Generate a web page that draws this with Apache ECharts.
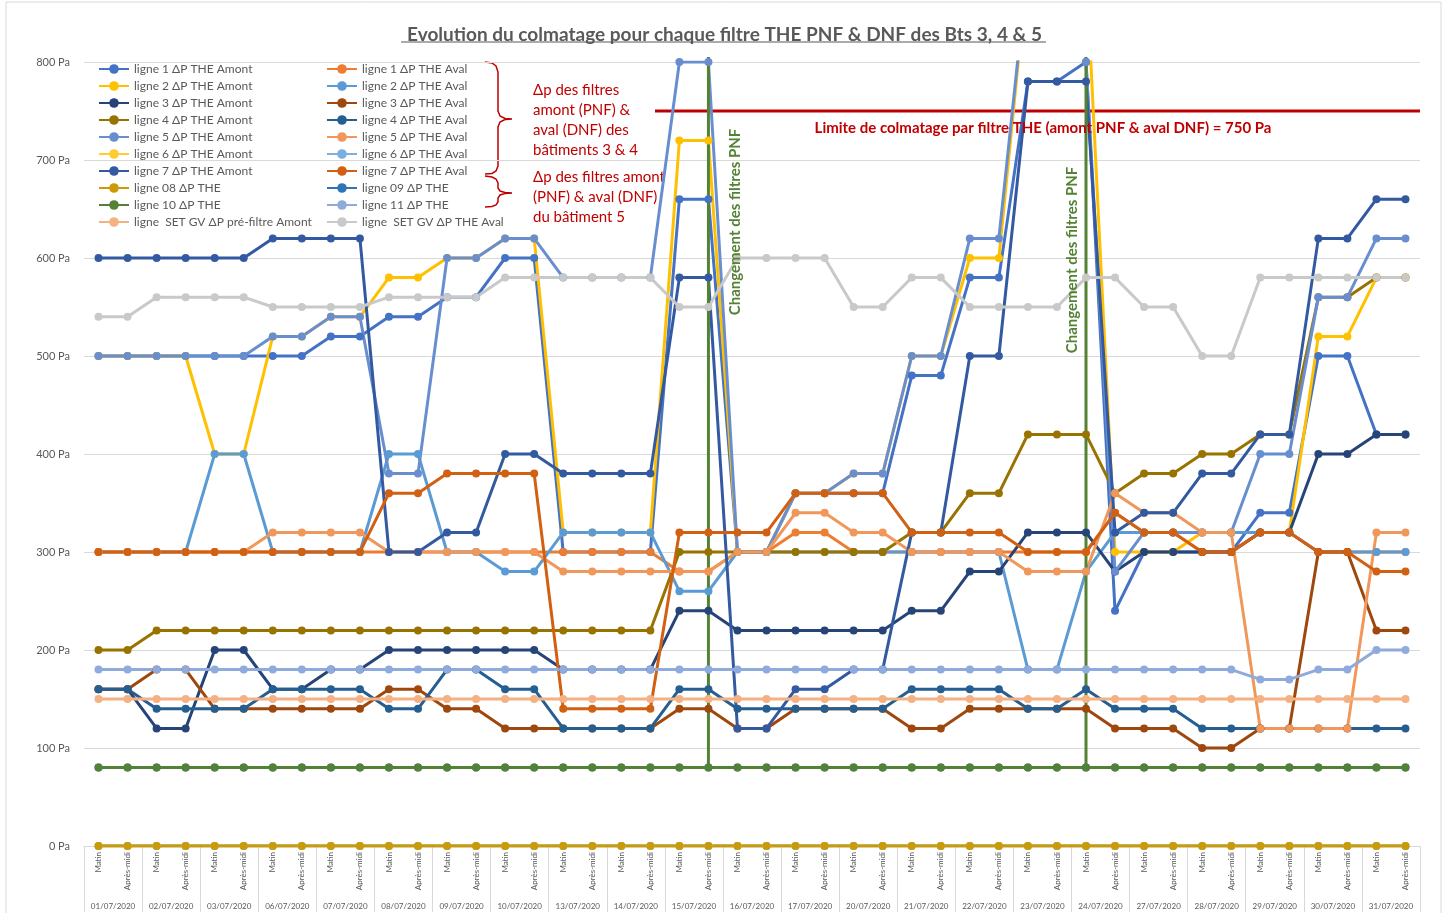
<!DOCTYPE html>
<html><head><meta charset="utf-8">
<script src="https://cdn.jsdelivr.net/npm/echarts@6/dist/echarts.min.js"></script>
<style>html,body{margin:0;padding:0;background:#fff}#c{width:1449px;height:913px}</style>
</head><body><div id="c"></div>
<script>
const dates = ['01/07/2020','02/07/2020','03/07/2020','06/07/2020','07/07/2020','08/07/2020','09/07/2020','10/07/2020','13/07/2020','14/07/2020','15/07/2020','16/07/2020','17/07/2020','20/07/2020','21/07/2020','22/07/2020','23/07/2020','24/07/2020','27/07/2020','28/07/2020','29/07/2020','30/07/2020','31/07/2020'];
const halves = ['Matin','Après-midi'];
const yTickLabelUnit = 'Pa';

const l1Amont = [500,500,500,500,500,500,500,500,520,520,540,540,560,560,600,600,300,300,300,300,660,660,300,300,360,360,360,360,480,480,580,580,780,780,800,240,300,300,300,300,340,340,500,500,420,420];
const l1Aval  = [300,300,300,300,300,300,300,300,300,300,300,300,300,300,300,300,300,300,300,300,280,280,300,300,320,320,300,300,300,300,300,300,300,300,300,340,320,320,300,300,320,320,300,300,300,300];
const l2Amont = [500,500,500,500,400,400,520,520,540,540,580,580,600,600,620,620,320,320,320,320,720,720,300,300,360,360,380,380,500,500,600,600,900,900,900,300,300,300,320,320,320,320,520,520,580,580];
const l2Aval  = [300,300,300,300,400,400,300,300,300,300,400,400,300,300,280,280,320,320,320,320,260,260,300,300,300,300,300,300,300,300,300,300,180,180,280,320,320,320,320,320,320,320,300,300,300,300];
const l3Amont = [160,160,120,120,200,200,160,160,180,180,200,200,200,200,200,200,180,180,180,180,240,240,220,220,220,220,220,220,240,240,280,280,320,320,320,280,300,300,300,300,320,320,400,400,420,420];
const l3Aval  = [160,160,180,180,140,140,140,140,140,140,160,160,140,140,120,120,120,120,120,120,140,140,120,120,140,140,140,140,120,120,140,140,140,140,140,120,120,120,100,100,120,120,300,300,220,220];
const l4Amont = [200,200,220,220,220,220,220,220,220,220,220,220,220,220,220,220,220,220,220,220,300,300,300,300,300,300,300,300,320,320,360,360,420,420,420,360,380,380,400,400,420,420,560,560,580,580];
const l4Aval  = [160,160,140,140,140,140,160,160,160,160,140,140,180,180,160,160,120,120,120,120,160,160,140,140,140,140,140,140,160,160,160,160,140,140,160,140,140,140,120,120,120,120,120,120,120,120];
const l5Amont = [500,500,500,500,500,500,520,520,540,540,380,380,600,600,620,620,580,580,580,580,800,800,300,300,360,360,380,380,500,500,620,620,900,900,800,280,320,320,320,320,400,400,560,560,620,620];
const l5Aval  = [300,300,300,300,300,300,320,320,320,320,300,300,300,300,300,300,280,280,280,280,280,280,300,300,340,340,320,320,300,300,300,300,280,280,280,360,340,340,320,320,120,120,120,120,320,320];
const l6Amont = [0,0,0,0,0,0,0,0,0,0,0,0,0,0,0,0,0,0,0,0,0,0,0,0,0,0,0,0,0,0,0,0,0,0,0,0,0,0,0,0,0,0,0,0,0,0];
const l6Aval  = [0,0,0,0,0,0,0,0,0,0,0,0,0,0,0,0,0,0,0,0,0,0,0,0,0,0,0,0,0,0,0,0,0,0,0,0,0,0,0,0,0,0,0,0,0,0];
const l7Amont = [600,600,600,600,600,600,620,620,620,620,300,300,320,320,400,400,380,380,380,380,580,580,120,120,160,160,180,180,320,320,500,500,780,780,780,320,340,340,380,380,420,420,620,620,660,660];
const l7Aval  = [300,300,300,300,300,300,300,300,300,300,360,360,380,380,380,380,140,140,140,140,320,320,320,320,360,360,360,360,320,320,320,320,300,300,300,340,320,320,300,300,320,320,300,300,280,280];
const l08     = [0,0,0,0,0,0,0,0,0,0,0,0,0,0,0,0,0,0,0,0,0,0,0,0,0,0,0,0,0,0,0,0,0,0,0,0,0,0,0,0,0,0,0,0,0,0];
const l09     = [80,80,80,80,80,80,80,80,80,80,80,80,80,80,80,80,80,80,80,80,80,80,80,80,80,80,80,80,80,80,80,80,80,80,80,80,80,80,80,80,80,80,80,80,80,80];
const l10     = [80,80,80,80,80,80,80,80,80,80,80,80,80,80,80,80,80,80,80,80,80,80,80,80,80,80,80,80,80,80,80,80,80,80,80,80,80,80,80,80,80,80,80,80,80,80];
const l11     = [180,180,180,180,180,180,180,180,180,180,180,180,180,180,180,180,180,180,180,180,180,180,180,180,180,180,180,180,180,180,180,180,180,180,180,180,180,180,180,180,170,170,180,180,200,200];
const setPre  = [150,150,150,150,150,150,150,150,150,150,150,150,150,150,150,150,150,150,150,150,150,150,150,150,150,150,150,150,150,150,150,150,150,150,150,150,150,150,150,150,150,150,150,150,150,150];
const setAval = [540,540,560,560,560,560,550,550,550,550,560,560,560,560,580,580,580,580,580,580,550,550,600,600,600,600,550,550,580,580,550,550,550,550,580,580,550,550,500,500,580,580,580,580,580,580];

// annotations (hidden value axis: 0..46 spans the category band, category i centre = i + 0.5)
const limitValue = 750;
const limitSpan = [19.66, 46];
const changePos = [21.5, 34.5];
const changeRange = [80, 805];

const names = {
  l1A:'ligne 1 ΔP THE Amont', l1V:'ligne 1 ΔP THE Aval', l2A:'ligne 2 ΔP THE Amont', l2V:'ligne 2 ΔP THE Aval',
  l3A:'ligne 3 ΔP THE Amont', l3V:'ligne 3 ΔP THE Aval', l4A:'ligne 4 ΔP THE Amont', l4V:'ligne 4 ΔP THE Aval',
  l5A:'ligne 5 ΔP THE Amont', l5V:'ligne 5 ΔP THE Aval', l6A:'ligne 6 ΔP THE Amont', l6V:'ligne 6 ΔP THE Aval',
  l7A:'ligne 7 ΔP THE Amont', l7V:'ligne 7 ΔP THE Aval', l08:'ligne 08 ΔP THE', l09:'ligne 09 ΔP THE',
  l10:'ligne 10 ΔP THE', l11:'ligne 11 ΔP THE', sP:'ligne  SET GV ΔP pré-filtre Amont', sA:'ligne  SET GV ΔP THE Aval'
};

const categories = [];
dates.forEach(d => halves.forEach(h => categories.push(d + '|' + h)));

const FONT = 'Lato, "Liberation Sans", sans-serif';
function mk(name, data, color) {
  return { name, type:'line', data, xAxisIndex:0, yAxisIndex:0, symbol:'circle', symbolSize:8,
    lineStyle:{ width:3, color }, itemStyle:{ color }, clip:true, animation:false, emphasis:{ disabled:true } };
}

const series = [
  mk(names.l1A, l1Amont, '#4472C4'), mk(names.l1V, l1Aval, '#ED7D31'),
  mk(names.l2A, l2Amont, '#FFC000'), mk(names.l2V, l2Aval, '#5B9BD5'),
  mk(names.l3A, l3Amont, '#264478'), mk(names.l3V, l3Aval, '#9E480E'),
  mk(names.l4A, l4Amont, '#997300'), mk(names.l4V, l4Aval, '#255E91'),
  mk(names.l5A, l5Amont, '#698ED0'), mk(names.l5V, l5Aval, '#F1975A'),
  mk(names.l6A, l6Amont, '#FFCD33'), mk(names.l6V, l6Aval, '#7CAFDD'),
  mk(names.l7A, l7Amont, '#335AA1'), mk(names.l7V, l7Aval, '#D26012'),
  mk(names.l08, l08, '#CC9A06'), mk(names.l09, l09, '#2E75B6'),
  mk(names.l10, l10, '#548235'), mk(names.l11, l11, '#8FAADC'),
  mk(names.sP, setPre, '#F4B183'), mk(names.sA, setAval, '#C9C9C9')
];
series.push({
  name:'limite', type:'line', xAxisIndex:2, yAxisIndex:0, symbol:'none', silent:true, animation:false, clip:false,
  lineStyle:{ color:'#C00000', width:3 }, z:1,
  data: limitSpan.map(x => [x, limitValue])
});
changePos.forEach((p, k) => series.push({
  name:'changement' + k, type:'line', xAxisIndex:2, yAxisIndex:0, symbol:'none', silent:true, animation:false, clip:false,
  lineStyle:{ color:'#548235', width:3 }, z:3,
  data: changeRange.map(v => [p, v])
}));

const leftNames = [names.l1A,names.l2A,names.l3A,names.l4A,names.l5A,names.l6A,names.l7A,names.l08,names.l10,names.sP];
const rightNames = [names.l1V,names.l2V,names.l3V,names.l4V,names.l5V,names.l6V,names.l7V,names.l09,names.l11,names.sA];
function leg(data, left) {
  return { data, orient:'vertical', left, top:63, padding:0, itemWidth:30, itemHeight:12, itemGap:5,
    selectedMode:false, textStyle:{ fontSize:12, color:'#595959', fontFamily:FONT, lineHeight:12 } };
}

const red = '#C00000';
const bracket1 = [[485,62],[492,63],[496,66],[498,72],[498,111],[500,116],[505,118.5],[512,119],[505,119.5],[500,122],[498,127],[498,166],[496,171],[492,173.5],[485,174]];
const bracket2 = [[485,176],[492,177],[496,179],[498,183],[498,188],[500,191],[505,192.5],[512,193],[505,193.5],[500,195],[498,198],[498,202],[496,205],[492,206.5],[485,207]];

const option = {
  animation:false,
  backgroundColor:'#fff',
  title:{ text:'Evolution du colmatage pour chaque filtre THE PNF & DNF des Bts 3, 4 & 5', left:'center', top:20,
    textStyle:{ fontSize:19, fontWeight:'bold', color:'#595959', fontFamily:FONT } },
  legend:[ leg(leftNames, 98), leg(rightNames, 326) ],
  grid:{ left:84, right:29, top:62, bottom:67, containLabel:false },
  xAxis:[
    { type:'category', data:categories, position:'bottom', boundaryGap:true,
      axisLine:{ show:true, lineStyle:{ color:'#d9d9d9' } }, axisTick:{ show:false },
      axisLabel:{ interval:0, rotate:90, fontSize:8, color:'#595959', fontFamily:FONT, margin:6,
        formatter: v => v.split('|')[1] } },
    { type:'category', data:dates, position:'bottom', gridIndex:0, boundaryGap:true,
      axisLine:{ show:false }, axisTick:{ show:true, length:66, interval:0, lineStyle:{ color:'#d9d9d9' } },
      axisLabel:{ interval:0, fontSize:8, color:'#595959', fontFamily:FONT, margin:56 } },
    { type:'value', min:0, max:46, show:false, gridIndex:0 }
  ],
  yAxis:{ type:'value', min:0, max:800, interval:100,
    axisLine:{ show:false }, axisTick:{ show:false },
    splitLine:{ lineStyle:{ color:'#d9d9d9', width:1 } },
    axisLabel:{ fontSize:11, color:'#595959', fontFamily:FONT, margin:14, formatter: v => v + ' ' + yTickLabelUnit } },
  series,
  graphic:[
    { type:'rect', silent:true, shape:{ x:6, y:2, width:1435, height:915 }, style:{ fill:'none', stroke:'#d9d9d9', lineWidth:1 } },
    { type:'line', silent:true, shape:{ x1:401, y1:42, x2:1046, y2:42 }, style:{ stroke:'#595959', lineWidth:1.2 } },
    { type:'polyline', silent:true, shape:{ points:bracket1 }, style:{ fill:'none', stroke:red, lineWidth:1.5 } },
    { type:'polyline', silent:true, shape:{ points:bracket2 }, style:{ fill:'none', stroke:red, lineWidth:1.5 } },
    { type:'text', silent:true, style:{ x:533, y:80, text:'Δp des filtres\namont (PNF) &\naval (DNF) des\nbâtiments 3 & 4',
      fill:red, fontSize:15, fontFamily:FONT, lineHeight:20 } },
    { type:'text', silent:true, style:{ x:533, y:167, text:'Δp des filtres amont\n(PNF) & aval (DNF)\ndu bâtiment 5',
      fill:red, fontSize:15, fontFamily:FONT, lineHeight:20 } },
    { type:'text', silent:true, z:100, style:{ x:1043, y:128, text:'Limite de colmatage par filtre THE (amont PNF & aval DNF) = 750 Pa',
      fill:red, fontSize:15, fontWeight:'bold', fontFamily:FONT, align:'center', verticalAlign:'middle' } },
    { type:'text', silent:true, z:100, x:735, y:222, rotation:Math.PI/2, style:{ x:0, y:0, text:'Changement des filtres PNF',
      fill:'#548235', fontSize:15, fontWeight:'bold', fontFamily:FONT, align:'center', verticalAlign:'middle' } },
    { type:'text', silent:true, z:100, x:1072, y:260, rotation:Math.PI/2, style:{ x:0, y:0, text:'Changement des filtres PNF',
      fill:'#548235', fontSize:15, fontWeight:'bold', fontFamily:FONT, align:'center', verticalAlign:'middle' } }
  ]
};
const chart = echarts.init(document.getElementById('c'), null, { renderer:'canvas' });
chart.setOption(option);
</script>
</body></html>
